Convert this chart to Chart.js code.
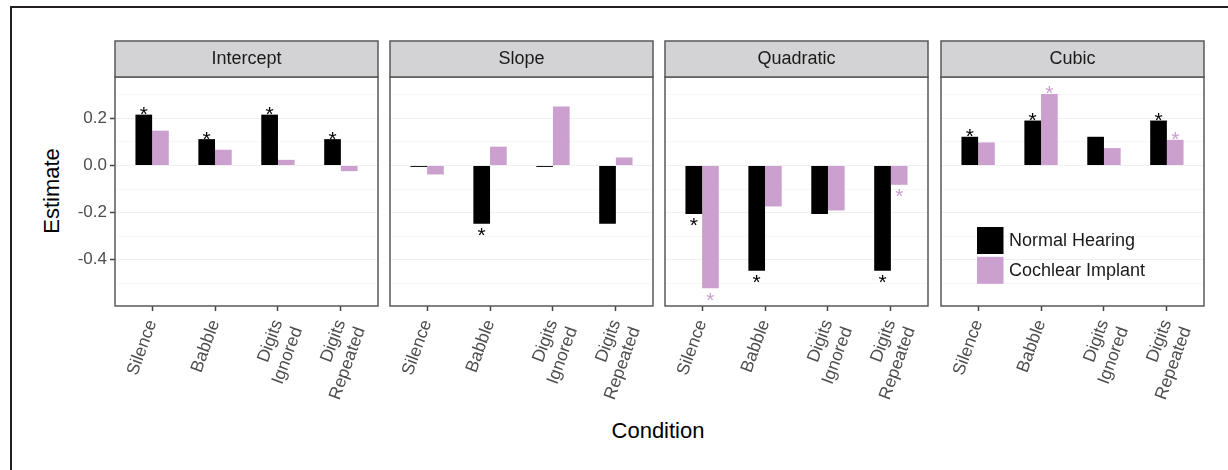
<!DOCTYPE html>
<html>
<head>
<meta charset="utf-8">
<script src="https://cdn.jsdelivr.net/npm/chart.js@4.4.1/dist/chart.umd.min.js"></script>
<style>
  body { margin: 0; background: #fff; overflow: hidden; }
  #wrap { position: relative; width: 1228px; height: 470px; }
  #wrap canvas { position: absolute; left: 0; top: 0; }
  .frame { position: absolute; left: 10px; top: 6px; width: 1400px; height: 600px;
           border-left: 2px solid #231f20; border-top: 2px solid #231f20; }
  .axtitle { position: absolute; font-family: "Liberation Sans", Arial, sans-serif;
             font-size: 22px; color: #000; white-space: nowrap; }
</style>
</head>
<body>
<div id="wrap">
  <div class="frame"></div>
  <div class="axtitle" id="ytitle" style="left:52px; top:191px; transform: translate(-50%,-50%) rotate(-90deg);">Estimate</div>
  <div class="axtitle" id="xtitle" style="left:658px; top:431px; transform: translate(-50%,-50%);">Condition</div>
  <canvas id="c0" width="1228" height="470"></canvas>
  <canvas id="c1" width="1228" height="470"></canvas>
  <canvas id="c2" width="1228" height="470"></canvas>
  <canvas id="c3" width="1228" height="470"></canvas>
</div>
<script>
// ---- data ----
const facets = ["Intercept", "Slope", "Quadratic", "Cubic"];
const conditions = [["Silence"], ["Babble"], ["Digits", "Ignored"], ["Digits", "Repeated"]];
const groups = ["Normal Hearing", "Cochlear Implant"];

const nhIntercept = [0.216, 0.112, 0.216, 0.112];
const ciIntercept = [0.148, 0.067, 0.024, -0.024];
const nhSlope = [-0.006, -0.248, -0.006, -0.248];
const ciSlope = [-0.038, 0.080, 0.251, 0.034];
const nhQuadratic = [-0.206, -0.447, -0.206, -0.447];
const ciQuadratic = [-0.522, -0.174, -0.191, -0.082];
const nhCubic = [0.122, 0.191, 0.122, 0.191];
const ciCubic = [0.098, 0.304, 0.074, 0.109];

// significance markers (1 = asterisk)
const nhSigIntercept = [1, 1, 1, 1];
const ciSigIntercept = [0, 0, 0, 0];
const nhSigSlope = [0, 1, 0, 0];
const ciSigSlope = [0, 0, 0, 0];
const nhSigQuadratic = [1, 1, 0, 1];
const ciSigQuadratic = [1, 0, 0, 1];
const nhSigCubic = [1, 1, 0, 1];
const ciSigCubic = [0, 1, 0, 1];

const yTicks = [-0.4, -0.2, 0.0, 0.2];

const nhValues = [nhIntercept, nhSlope, nhQuadratic, nhCubic];
const ciValues = [ciIntercept, ciSlope, ciQuadratic, ciCubic];
const nhSig = [nhSigIntercept, nhSigSlope, nhSigQuadratic, nhSigCubic];
const ciSig = [ciSigIntercept, ciSigSlope, ciSigQuadratic, ciSigCubic];

// ---- look ----
const FONT = '"Liberation Sans", Arial, sans-serif';
const NH_COLOR = "#000000";
const CI_COLOR = "#cb9fce";
const panelLefts = [115, 390, 665, 941];
const panelWidth = 263;
const W = 1228, H = 470;

// strips, frame, asterisks and legend
const facetDecor = {
  id: "facetDecor",
  afterDatasetsDraw(chart, args, opts) {
    const ctx = chart.ctx;
    ctx.save();
    ctx.textAlign = "center";
    ctx.textBaseline = "alphabetic";
    ctx.font = "21px " + FONT;
    chart.data.datasets.forEach((ds, di) => {
      const meta = chart.getDatasetMeta(di);
      meta.data.forEach((bar, i) => {
        if (!ds.sig[i]) return;
        ctx.fillStyle = ds.backgroundColor;
        const v = ds.data[i].y;
        ctx.fillText("*", bar.x, v >= 0 ? bar.y + 6.5 : bar.y + 18.5);
      });
    });
    ctx.restore();
  },
  afterDraw(chart, args, opts) {
    const ctx = chart.ctx;
    const a = chart.chartArea;
    ctx.save();
    // panel border
    ctx.strokeStyle = "#595959";
    ctx.lineWidth = 1.5;
    ctx.strokeRect(a.left, a.top, a.right - a.left, a.bottom - a.top);
    // strip
    const stripTop = a.top - 36;
    ctx.fillStyle = "#d3d3d5";
    ctx.fillRect(a.left, stripTop, a.right - a.left, 36);
    ctx.strokeRect(a.left, stripTop, a.right - a.left, 36);
    ctx.fillStyle = "#1a1a1a";
    ctx.font = "18px " + FONT;
    ctx.textAlign = "center";
    ctx.textBaseline = "middle";
    ctx.fillText(opts.title, (a.left + a.right) / 2, stripTop + 18);
    // legend inside last panel
    if (opts.legend) {
      const lx = a.left + 36, ly = a.top + 150;
      chart.data.datasets.forEach((ds, di) => {
        const y = ly + di * 29.8;
        ctx.fillStyle = ds.backgroundColor;
        ctx.fillRect(lx, y, 26.5, 27);
        ctx.fillStyle = "#1a1a1a";
        ctx.textAlign = "left";
        ctx.fillText(ds.label, lx + 32, y + 14);
      });
    }
    ctx.restore();
  }
};

function makeChart(k) {
  const first = k === 0;
  const left = panelLefts[k];
  const yWidth = first ? 60 : 0;
  return new Chart(document.getElementById("c" + k), {
    type: "bar",
    data: {
      datasets: [
        { label: groups[0], data: nhValues[k].map((v, i) => ({ x: i, y: v })),
          backgroundColor: NH_COLOR, sig: nhSig[k] },
        { label: groups[1], data: ciValues[k].map((v, i) => ({ x: i, y: v })),
          backgroundColor: CI_COLOR, sig: ciSig[k] }
      ]
    },
    options: {
      responsive: false,
      animation: false,
      events: [],
      layout: {
        padding: { left: left - yWidth, right: W - left - panelWidth, top: 77, bottom: 14 }
      },
      datasets: { bar: { categoryPercentage: 0.53, barPercentage: 1.0, borderWidth: 0 } },
      scales: {
        x: {
          type: "linear",
          min: -0.59, max: 3.59,
          offset: false,
          afterFit: s => { s.height = 150; },
          border: { display: false },
          grid: { offset: false, drawOnChartArea: false, drawTicks: true, tickLength: 5,
                  tickColor: "#444", tickWidth: 1.5 },
          ticks: {
            stepSize: 1, includeBounds: false, autoSkip: false,
            minRotation: 70, maxRotation: 70, padding: 6,
            color: "#4d4d4d", font: { family: FONT, size: 17.5 },
            callback: v => conditions[Math.round(v)]
          }
        },
        y: {
          min: -0.597, max: 0.376,
          afterFit: s => { s.width = yWidth; },
          border: { display: false },
          grid: {
            drawTicks: first, tickLength: 5, tickWidth: 1.5,
            color: c => (Math.round(c.tick.value * 10) % 2 === 0 ? "#efefef" : "#f7f7f7"),
            tickColor: c => (yTicks.some(t => Math.abs(t - c.tick.value) < 1e-6) ? "#444" : "rgba(0,0,0,0)")
          },
          ticks: {
            display: first, stepSize: 0.1, includeBounds: false, padding: 3,
            color: "#4d4d4d", font: { family: FONT, size: 17 },
            callback: v => (yTicks.some(t => Math.abs(t - v) < 1e-6) ? v.toFixed(1) : "")
          }
        }
      },
      plugins: {
        legend: { display: false },
        tooltip: { enabled: false },
        facetDecor: { title: facets[k], legend: k === 3 }
      }
    },
    plugins: [facetDecor]
  });
}

for (let k = 0; k < facets.length; k++) makeChart(k);
</script>
</body>
</html>
